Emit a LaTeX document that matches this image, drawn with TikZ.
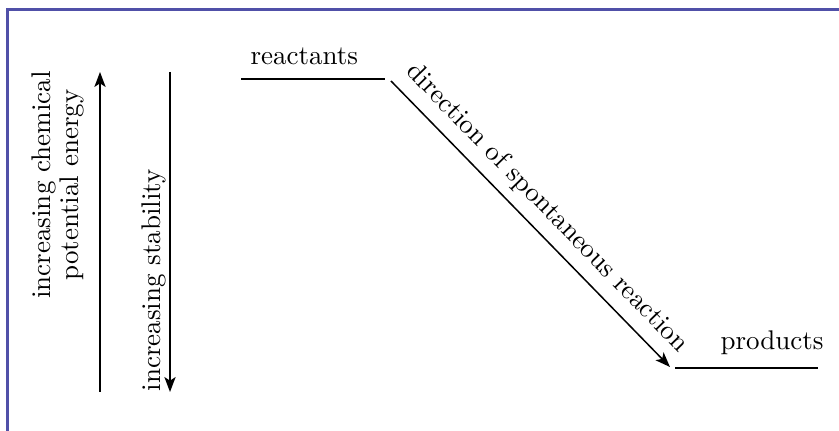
\documentclass[tikz,border=0pt]{standalone}
\usepackage{tikz}
\usetikzlibrary{arrows.meta,positioning,calc}
\usepackage{xcolor}
\definecolor{cFrame}{RGB}{80,80,168}
\tikzset{
  lbl/.style={font=\fontsize{10.8}{11.2}\selectfont,inner sep=0pt},
  level/.style={line width=0.75pt,color=black},
  arr/.style={-{Stealth[length=6pt,width=4.5pt,inset=1.5pt]},
              line width=0.6pt,color=black},
  framebar/.style={line width=1.2pt,color=cFrame}
}

\begin{document}
\begin{tikzpicture}[x=0.4pt,y=-0.4pt]
  \useasboundingbox (0,0) rectangle (839,431);
  \draw[framebar] (7,431) |- (839,10);

  % energy levels
  \coordinate (reactL) at (241,79);
  \coordinate (reactR) at (385,79);
  \coordinate (prodL) at (675,368);
  \coordinate (prodR) at (818,368);
  \draw[level] (reactL) -- (reactR);
  \draw[level] (prodL) -- (prodR);
  \node[lbl,anchor=base west] (react) at (250,65) {reactants};
  \node[lbl,anchor=base west] (prod) at (720,350) {products};

  % reaction arrow
  \coordinate (rxnS) at (391,81);
  \coordinate (rxnE) at (670,367);
  \draw[arr] (rxnS) -- (rxnE)
      node[lbl,midway,sloped,above=4pt] (rxn) {direction of spontaneous reaction};

  % vertical arrows
  \coordinate (enBot) at (100,392);
  \coordinate (enTop) at (100,72);
  \coordinate (stTop) at (170,72);
  \coordinate (stBot) at (170,392);
  \draw[arr] (enBot) -- (enTop);
  \draw[arr] (stTop) -- (stBot);
  \node[lbl,rotate=90,align=center] (energy) at (58,185)
      {increasing chemical\\potential energy};
  \node[lbl,rotate=90,anchor=base west] (stab) at (160,392)
      {increasing stability};
\end{tikzpicture}
\end{document}
